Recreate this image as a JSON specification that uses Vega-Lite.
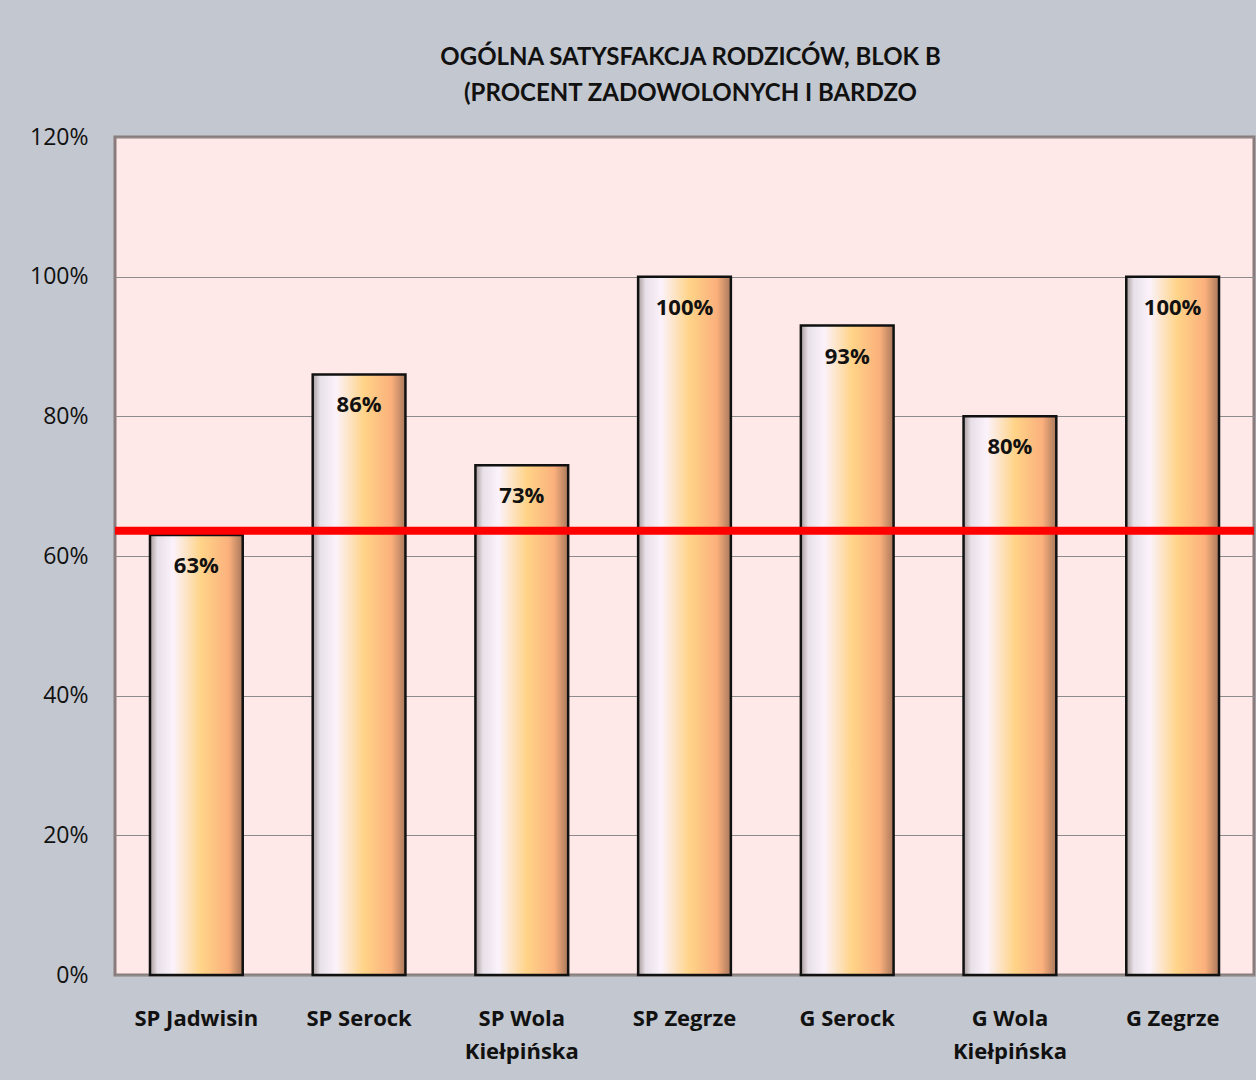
{
  "$schema": "https://vega.github.io/schema/vega-lite/v6.json",
  "width": 1139,
  "height": 838,
  "autosize": {"type": "none"},
  "padding": {"left": 115, "top": 137, "right": 2, "bottom": 105},
  "background": "#c3c7cf",
  "title": {
    "text": ["OGÓLNA SATYSFAKCJA RODZICÓW, BLOK B", "(PROCENT ZADOWOLONYCH I BARDZO"],
    "font": "Lato",
    "fontSize": 24,
    "fontWeight": "bold",
    "color": "#111111",
    "anchor": "middle",
    "lineHeight": 36,
    "offset": 20,
    "dx": 6
  },
  "config": {
    "view": {"fill": "#ffe9e8", "stroke": "#8a7c7c", "strokeWidth": 3},
    "font": "Open Sans"
  },
  "data": {
    "values": [
      {"school": "SP Jadwisin", "value": 0.63},
      {"school": "SP Serock", "value": 0.86},
      {"school": "SP Wola Kiełpińska", "value": 0.73},
      {"school": "SP Zegrze", "value": 1.0},
      {"school": "G Serock", "value": 0.93},
      {"school": "G Wola Kiełpińska", "value": 0.8},
      {"school": "G Zegrze", "value": 1.0}
    ]
  },
  "encoding": {
    "x": {
      "field": "school",
      "type": "nominal",
      "sort": null,
      "scale": {"paddingInner": 0.43, "paddingOuter": 0.215},
      "axis": {
        "title": null,
        "domain": false,
        "ticks": false,
        "labelAngle": 0,
        "labelFont": "Open Sans",
        "labelFontSize": 22,
        "labelFontWeight": "bold",
        "labelColor": "#111111",
        "labelPadding": 33,
        "labelLineHeight": 33,
        "labelLimit": 200,
        "labelExpr": "split(replace(datum.label, ' Kiełpińska', '|Kiełpińska'), '|')"
      }
    },
    "y": {
      "field": "value",
      "type": "quantitative",
      "scale": {"domain": [0, 1.2], "nice": false},
      "axis": {
        "title": null,
        "format": ".0%",
        "values": [0, 0.2, 0.4, 0.6, 0.8, 1.0, 1.2],
        "domain": false,
        "ticks": false,
        "labelFont": "Open Sans",
        "labelFontSize": 23,
        "labelColor": "#111111",
        "labelPadding": 27,
        "gridColor": "#8c8c8c",
        "gridWidth": 1.2,
        "gridOpacity": 1
      }
    }
  },
  "layer": [
    {
      "mark": {
        "type": "bar",
        "stroke": "#111111",
        "strokeWidth": 2.5,
        "color": {
          "gradient": "linear",
          "x1": 0, "y1": 0, "x2": 1, "y2": 0,
          "stops": [
            {"offset": 0, "color": "#a89c9c"},
            {"offset": 0.08, "color": "#e8e0e8"},
            {"offset": 0.25, "color": "#fbf2fb"},
            {"offset": 0.55, "color": "#ffd488"},
            {"offset": 0.85, "color": "#fbb07c"},
            {"offset": 1, "color": "#a8785c"}
          ]
        }
      }
    },
    {
      "mark": {
        "type": "text",
        "baseline": "middle",
        "dy": 31,
        "font": "Open Sans",
        "fontSize": 22,
        "fontWeight": "bold",
        "color": "#111111"
      },
      "encoding": {
        "text": {"field": "value", "type": "quantitative", "format": ".0%"}
      }
    },
    {
      "data": {"values": [{"reference": 0.636}]},
      "mark": {"type": "rule", "color": "#ff0000", "strokeWidth": 8},
      "encoding": {
        "x": null,
        "y": {"field": "reference", "type": "quantitative"}
      }
    }
  ]
}
